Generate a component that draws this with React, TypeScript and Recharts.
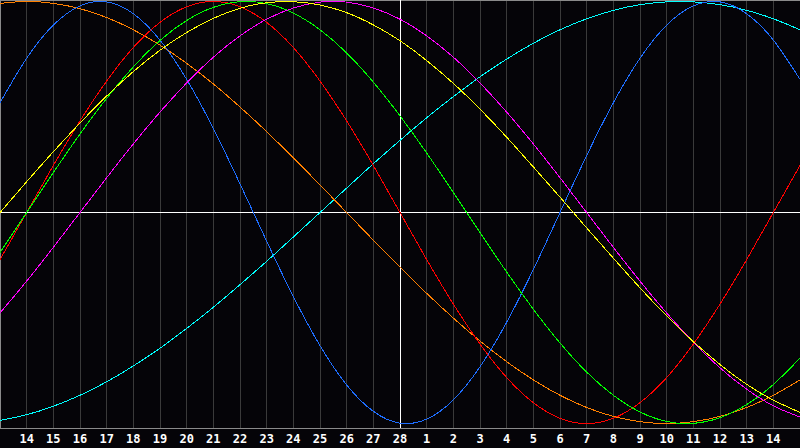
import { LineChart, Line, XAxis, YAxis, CartesianGrid, ReferenceLine } from 'recharts'

// ── Days shown along the bottom (13 Feb .. 15 Mar) ─────────────────────────────
const dayLabels = [13, 14, 15, 16, 17, 18, 19, 20, 21, 22, 23, 24, 25, 26, 27, 28, 1, 2, 3, 4, 5, 6, 7, 8, 9, 10, 11, 12, 13, 14, 15]
const todayIndex = 15

// ── Cycle values, one per day (-1 .. 1) ────────────────────────────────────────
const blue = [0.52, 0.731, 0.888, 0.979, 0.998, 0.942, 0.817, 0.631, 0.398, 0.136, -0.136, -0.398, -0.631, -0.817, -0.942, -0.998, -0.979, -0.888, -0.731, -0.52, -0.27, 0, 0.27, 0.52, 0.731, 0.888, 0.979, 0.998, 0.942, 0.817, 0.631]
const red = [-0.223, 0, 0.223, 0.434, 0.623, 0.782, 0.901, 0.975, 1, 0.975, 0.901, 0.782, 0.623, 0.434, 0.223, 0, -0.223, -0.434, -0.623, -0.782, -0.901, -0.975, -1, -0.975, -0.901, -0.782, -0.623, -0.434, -0.223, 0, 0.223]
const green = [-0.189, 0, 0.189, 0.372, 0.541, 0.69, 0.815, 0.91, 0.972, 0.999, 0.99, 0.945, 0.866, 0.756, 0.618, 0.458, 0.282, 0.095, -0.095, -0.282, -0.458, -0.618, -0.756, -0.866, -0.945, -0.99, -0.999, -0.972, -0.91, -0.815, -0.69]
const yellow = [0, 0.146, 0.288, 0.424, 0.552, 0.668, 0.769, 0.853, 0.92, 0.968, 0.994, 0.999, 0.983, 0.947, 0.889, 0.814, 0.72, 0.612, 0.49, 0.357, 0.216, 0.073, -0.073, -0.216, -0.357, -0.49, -0.612, -0.72, -0.814, -0.889, -0.947]
const magenta = [-0.476, -0.325, -0.165, 0, 0.165, 0.325, 0.476, 0.614, 0.736, 0.837, 0.916, 0.969, 0.997, 0.997, 0.969, 0.916, 0.837, 0.736, 0.614, 0.476, 0.325, 0.165, 0, -0.165, -0.325, -0.476, -0.614, -0.736, -0.837, -0.916, -0.969]
const orange = [0.991, 1, 0.991, 0.966, 0.924, 0.866, 0.793, 0.707, 0.609, 0.5, 0.383, 0.259, 0.131, 0, -0.131, -0.259, -0.383, -0.5, -0.609, -0.707, -0.793, -0.866, -0.924, -0.966, -0.991, -1, -0.991, -0.966, -0.924, -0.866, -0.793]
const cyan = [-0.985, -0.958, -0.918, -0.866, -0.802, -0.727, -0.643, -0.549, -0.449, -0.342, -0.231, -0.116, 0, 0.116, 0.231, 0.342, 0.449, 0.549, 0.643, 0.727, 0.802, 0.866, 0.918, 0.958, 0.985, 0.998, 0.998, 0.985, 0.958, 0.918, 0.866]

const series = [
  { key: 'cyan', color: '#00ffff' },
  { key: 'orange', color: '#ff8000' },
  { key: 'blue', color: '#1e6eff' },
  { key: 'red', color: '#ff0000' },
  { key: 'green', color: '#00ff00' },
  { key: 'magenta', color: '#ff00ff' },
  { key: 'yellow', color: '#ffff00' },
]

const data = dayLabels.map((day, i) => ({
  i,
  day,
  blue: blue[i],
  red: red[i],
  green: green[i],
  yellow: yellow[i],
  magenta: magenta[i],
  orange: orange[i],
  cyan: cyan[i],
}))

const tickIdx = dayLabels.map((_, i) => i).slice(1, -1)

export default function App() {
  return (
    <div style={{ width: 800, height: 448, background: '#050408' }}>
      <style>{'body{margin:0;background:#050408}'}</style>
      <LineChart width={800} height={448} data={data} margin={{ top: 0, right: 0, left: 0, bottom: 0 }}>
        <CartesianGrid horizontal={false} stroke="#3a3a3a" strokeWidth={1} shapeRendering="crispEdges" />
        <XAxis
          dataKey="i"
          type="number"
          domain={[0, dayLabels.length - 1]}
          ticks={tickIdx}
          tickFormatter={(v: number) => String(dayLabels[v])}
          height={20}
          interval={0}
          tickSize={0}
          tickMargin={6}
          axisLine={{ stroke: '#8a8a8a', strokeWidth: 1, shapeRendering: 'crispEdges' }}
          tickLine={false}
          tick={{ fontSize: 12, fill: '#ffffff', fontFamily: 'DejaVu Sans Mono', fontWeight: 'bold' }}
        />
        <YAxis hide domain={[-1.021, 1.007]} allowDataOverflow />
        <ReferenceLine x={0} stroke="#8a8a8a" strokeWidth={2} />
        <ReferenceLine y={1.007} stroke="#8a8a8a" strokeWidth={2} />
        <ReferenceLine x={todayIndex} stroke="#ffffff" strokeWidth={1} shapeRendering="crispEdges" />
        <ReferenceLine y={0} stroke="#ffffff" strokeWidth={1} shapeRendering="crispEdges" />
        {series.map((s) => (
          <Line
            key={s.key}
            type="natural"
            dataKey={s.key}
            stroke={s.color}
            strokeWidth={1}
            shapeRendering="crispEdges"
            dot={false}
            activeDot={false}
            isAnimationActive={false}
          />
        ))}
      </LineChart>
    </div>
  )
}
